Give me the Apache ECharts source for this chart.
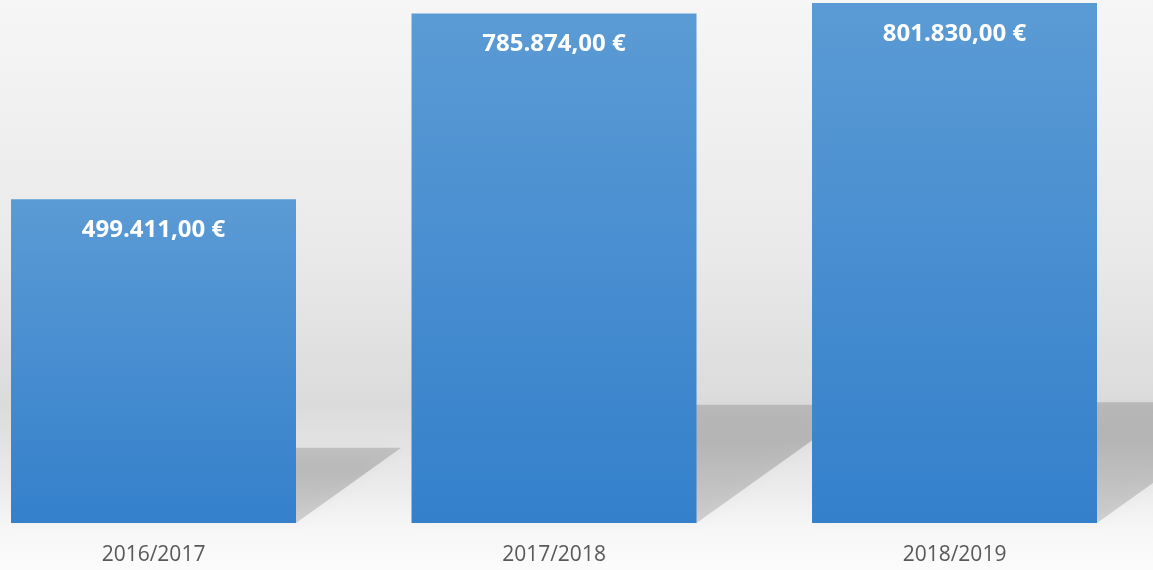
<!DOCTYPE html>
<html>
<head>
<meta charset="utf-8">
<script src="https://cdn.jsdelivr.net/npm/echarts@6/dist/echarts.min.js"></script>
<style>
html,body{margin:0;padding:0;}
#c{width:1153px;height:570px;}
</style>
</head>
<body>
<div id="c"></div>
<script>
var categories = ['2016/2017', '2017/2018', '2018/2019'];
var values = [499411, 785874, 801830];

function fmt(v) {
  var s = Math.round(v).toString().replace(/\B(?=(\d{3})+(?!\d))/g, '.');
  return s + ',00 €';
}

var points = values.map(function (v, i) { return [i, v]; });

var chart = echarts.init(document.getElementById('c'));
chart.setOption({
  backgroundColor: new echarts.graphic.LinearGradient(0, 0, 0, 1, [
    {offset: 0, color: '#f6f6f6'},
    {offset: 0.45, color: '#e9e9e9'},
    {offset: 0.71, color: '#dbdbdb'},
    {offset: 0.86, color: '#ececec'},
    {offset: 0.93, color: '#f7f7f7'},
    {offset: 1, color: '#fbfbfb'}
  ]),
  animation: false,
  grid: {left: 0, right: 0, top: 0, bottom: 47, containLabel: false},
  xAxis: {
    type: 'value',
    min: -0.3833,
    max: 2.4956,
    splitLine: {show: false},
    axisLine: {show: false},
    axisTick: {show: false},
    axisLabel: {
      customValues: [0, 1, 2],
      color: '#595959', fontSize: 21, fontFamily: 'Open Sans', margin: 22,
      formatter: function (v) { return categories[Math.round(v)]; }
    }
  },
  yAxis: {
    type: 'value',
    min: 0,
    max: 806500,
    show: false,
    splitLine: {show: false}
  },
  series: [
    {
      type: 'custom',
      z: 1,
      data: points,
      renderItem: function (params, api) {
        var i = api.value(0), v = api.value(1);
        var top = api.coord([i, v]);
        var base = api.coord([i, 0]);
        var bw = 285;
        var xl = base[0] - bw / 2, xr = base[0] + bw / 2;
        var h = base[1] - top[1];
        var sh = h * 0.232;
        var dx = sh * 1.4;
        return {
          type: 'polygon',
          shape: {points: [[xl, base[1]], [xr, base[1]], [xr + dx, base[1] - sh], [xl + dx, base[1] - sh]]},
          style: {
            fill: new echarts.graphic.LinearGradient(0, 0, 0, 1, [
              {offset: 0, color: 'rgba(0,0,0,0.15)'},
              {offset: 0.3, color: 'rgba(0,0,0,0.18)'},
              {offset: 1, color: 'rgba(0,0,0,0.14)'}
            ]),
            shadowBlur: 14,
            shadowColor: 'rgba(0,0,0,0.15)'
          }
        };
      }
    },
    {
      type: 'bar',
      z: 2,
      data: points,
      barWidth: 285,
      itemStyle: {
        color: new echarts.graphic.LinearGradient(0, 0, 0, 1, [
          {offset: 0, color: '#5b9bd5'},
          {offset: 1, color: '#3480cb'}
        ])
      },
      label: {
        show: true,
        position: 'insideTop',
        distance: 19,
        color: '#ffffff',
        fontSize: 24,
        fontWeight: 'bold',
        fontFamily: 'Open Sans',
        formatter: function (p) { return fmt(p.value[1]); }
      }
    }
  ]
});
</script>
</body>
</html>
